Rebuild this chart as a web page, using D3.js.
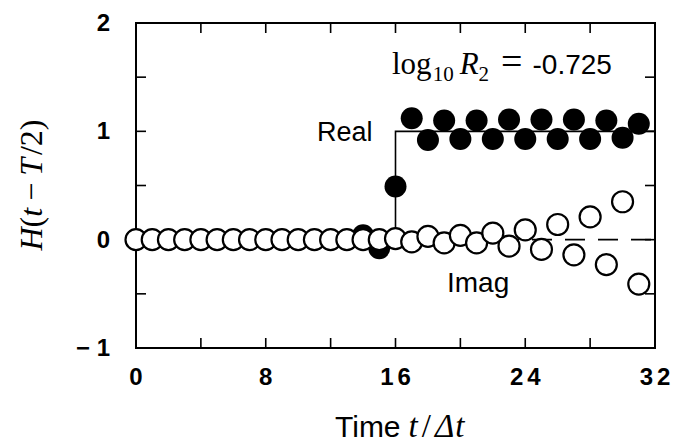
<!DOCTYPE html>
<html><head><meta charset="utf-8">
<script src="https://cdn.jsdelivr.net/npm/d3@7"></script>
<style>body{margin:0;background:#fff}svg{display:block}</style>
</head><body>
<script>
const times = d3.range(0, 32);
const realValues = [0,0,0,0,0,0,0,0,0,0,0,0,0,0,0.04,-0.08,0.49,1.12,0.92,1.10,0.93,1.10,0.93,1.11,0.93,1.11,0.93,1.11,0.93,1.10,0.94,1.07];
const imagValues = [0,0,0,0,0,0,0,0,0,0,0,0,0,0,0,0,0.01,-0.02,0.03,-0.03,0.04,-0.03,0.06,-0.06,0.09,-0.09,0.14,-0.14,0.21,-0.23,0.35,-0.41];
const stepX = [0,16,16,32];
const stepY = [0,0,1,1];
const xTickLabels = [0,8,16,24,32];
const yTickLabels = [2,1,0,-1];
const xMinorTicks = [4,8,12,16,20,24,28];
const yMinorTicks = [-0.5,0,0.5,1,1.5];

const W=680,H=448;
const svg=d3.select("body").append("svg").attr("width",W).attr("height",H);
const x=d3.scaleLinear().domain([0,32]).range([136,655]);
const y=d3.scaleLinear().domain([-1,2]).range([348,23]);
const tl=10;

const g=svg.append("g").attr("stroke","#000").attr("stroke-width",1.6);
xMinorTicks.forEach(t=>{
  g.append("line").attr("x1",x(t)).attr("x2",x(t)).attr("y1",y(-1)).attr("y2",y(-1)-tl);
  g.append("line").attr("x1",x(t)).attr("x2",x(t)).attr("y1",y(2)).attr("y2",y(2)+tl);
});
yMinorTicks.forEach(v=>{
  g.append("line").attr("x1",x(0)).attr("x2",x(0)+tl).attr("y1",y(v)).attr("y2",y(v));
  g.append("line").attr("x1",x(32)).attr("x2",x(32)-tl).attr("y1",y(v)).attr("y2",y(v));
});

svg.append("line").attr("x1",x(0)).attr("x2",x(32)).attr("y1",y(0)).attr("y2",y(0))
  .attr("stroke","#000").attr("stroke-width",1.6).attr("stroke-dasharray","20,13");
svg.append("path").datum(stepX.map((v,i)=>[v,stepY[i]]))
  .attr("d",d3.line().x(d=>x(d[0])).y(d=>y(d[1])))
  .attr("fill","none").attr("stroke","#000").attr("stroke-width",1.6);

svg.append("rect").attr("x",x(0)).attr("y",y(2)).attr("width",x(32)-x(0)).attr("height",y(-1)-y(2))
  .attr("fill","none").attr("stroke","#000").attr("stroke-width",2);

svg.append("g").selectAll("circle").data(times).join("circle")
  .attr("cx",t=>x(t)).attr("cy",t=>y(realValues[t])).attr("r",11).attr("fill","#000");
svg.append("g").selectAll("circle").data(times).join("circle")
  .attr("cx",t=>x(t)).attr("cy",t=>y(imagValues[t])).attr("r",10.5).attr("fill","#fff")
  .attr("stroke","#000").attr("stroke-width",2.2);

const bold="'Liberation Sans', Arial, sans-serif";
svg.append("g").selectAll("text").data(xTickLabels).join("text")
  .attr("x",d=>x(d)+2).attr("y",385).attr("text-anchor","middle")
  .attr("font-family",bold).attr("font-weight","bold").attr("font-size",24)
  .attr("letter-spacing",4).text(d=>d);
svg.append("g").selectAll("text").data(yTickLabels).join("text")
  .attr("x",110).attr("y",d=>y(d)+8).attr("text-anchor","end")
  .attr("font-family",bold).attr("font-weight","bold").attr("font-size",24)
  .text(d=>d<0?"\u2212 "+Math.abs(d):d);

const serif="'Liberation Serif','Times New Roman',serif";
const ann=svg.append("text").attr("x",392).attr("y",74).attr("font-family",serif).attr("font-size",31);
ann.append("tspan").text("log");
ann.append("tspan").attr("font-size",21).attr("dy",7).attr("dx",1).text("10");
ann.append("tspan").attr("dy",-7).attr("dx",6).attr("font-style","italic").text("R");
ann.append("tspan").attr("font-size",21).attr("dy",7).text("2");
ann.append("tspan").attr("dy",-7).attr("dx",12).attr("font-size",38).text("=");
ann.append("tspan").attr("dx",10).attr("font-family",bold).attr("font-size",28).text("-0.725");

svg.append("text").attr("x",317).attr("y",141).attr("font-family",bold).attr("font-size",27).text("Real");
svg.append("text").attr("x",447).attr("y",292).attr("font-family",bold).attr("font-size",28).text("Imag");

const xt=svg.append("text").attr("x",335).attr("y",437).attr("font-size",30).attr("font-family",bold);
xt.append("tspan").text("Time");
xt.append("tspan").attr("dx",8).attr("font-family",serif).attr("font-style","italic").attr("font-size",33).text("t");
xt.append("tspan").attr("dx",4).attr("font-family",serif).attr("font-size",33).text("/");
xt.append("tspan").attr("dx",4).attr("font-family",serif).attr("font-style","italic").attr("font-size",33).text("\u0394");
xt.append("tspan").attr("dx",1).attr("font-family",serif).attr("font-style","italic").attr("font-size",33).text("t");

const yt=svg.append("text").attr("transform","translate(42,185) rotate(-90)").attr("text-anchor","middle")
  .attr("font-family",serif).attr("font-size",32);
yt.append("tspan").attr("font-style","italic").text("H");
yt.append("tspan").text("(");
yt.append("tspan").attr("font-style","italic").text("t");
yt.append("tspan").attr("dx",7).text("\u2212");
yt.append("tspan").attr("dx",7).attr("font-style","italic").text("T");
yt.append("tspan").attr("dx",3).text("/2)");
</script>
</body></html>
